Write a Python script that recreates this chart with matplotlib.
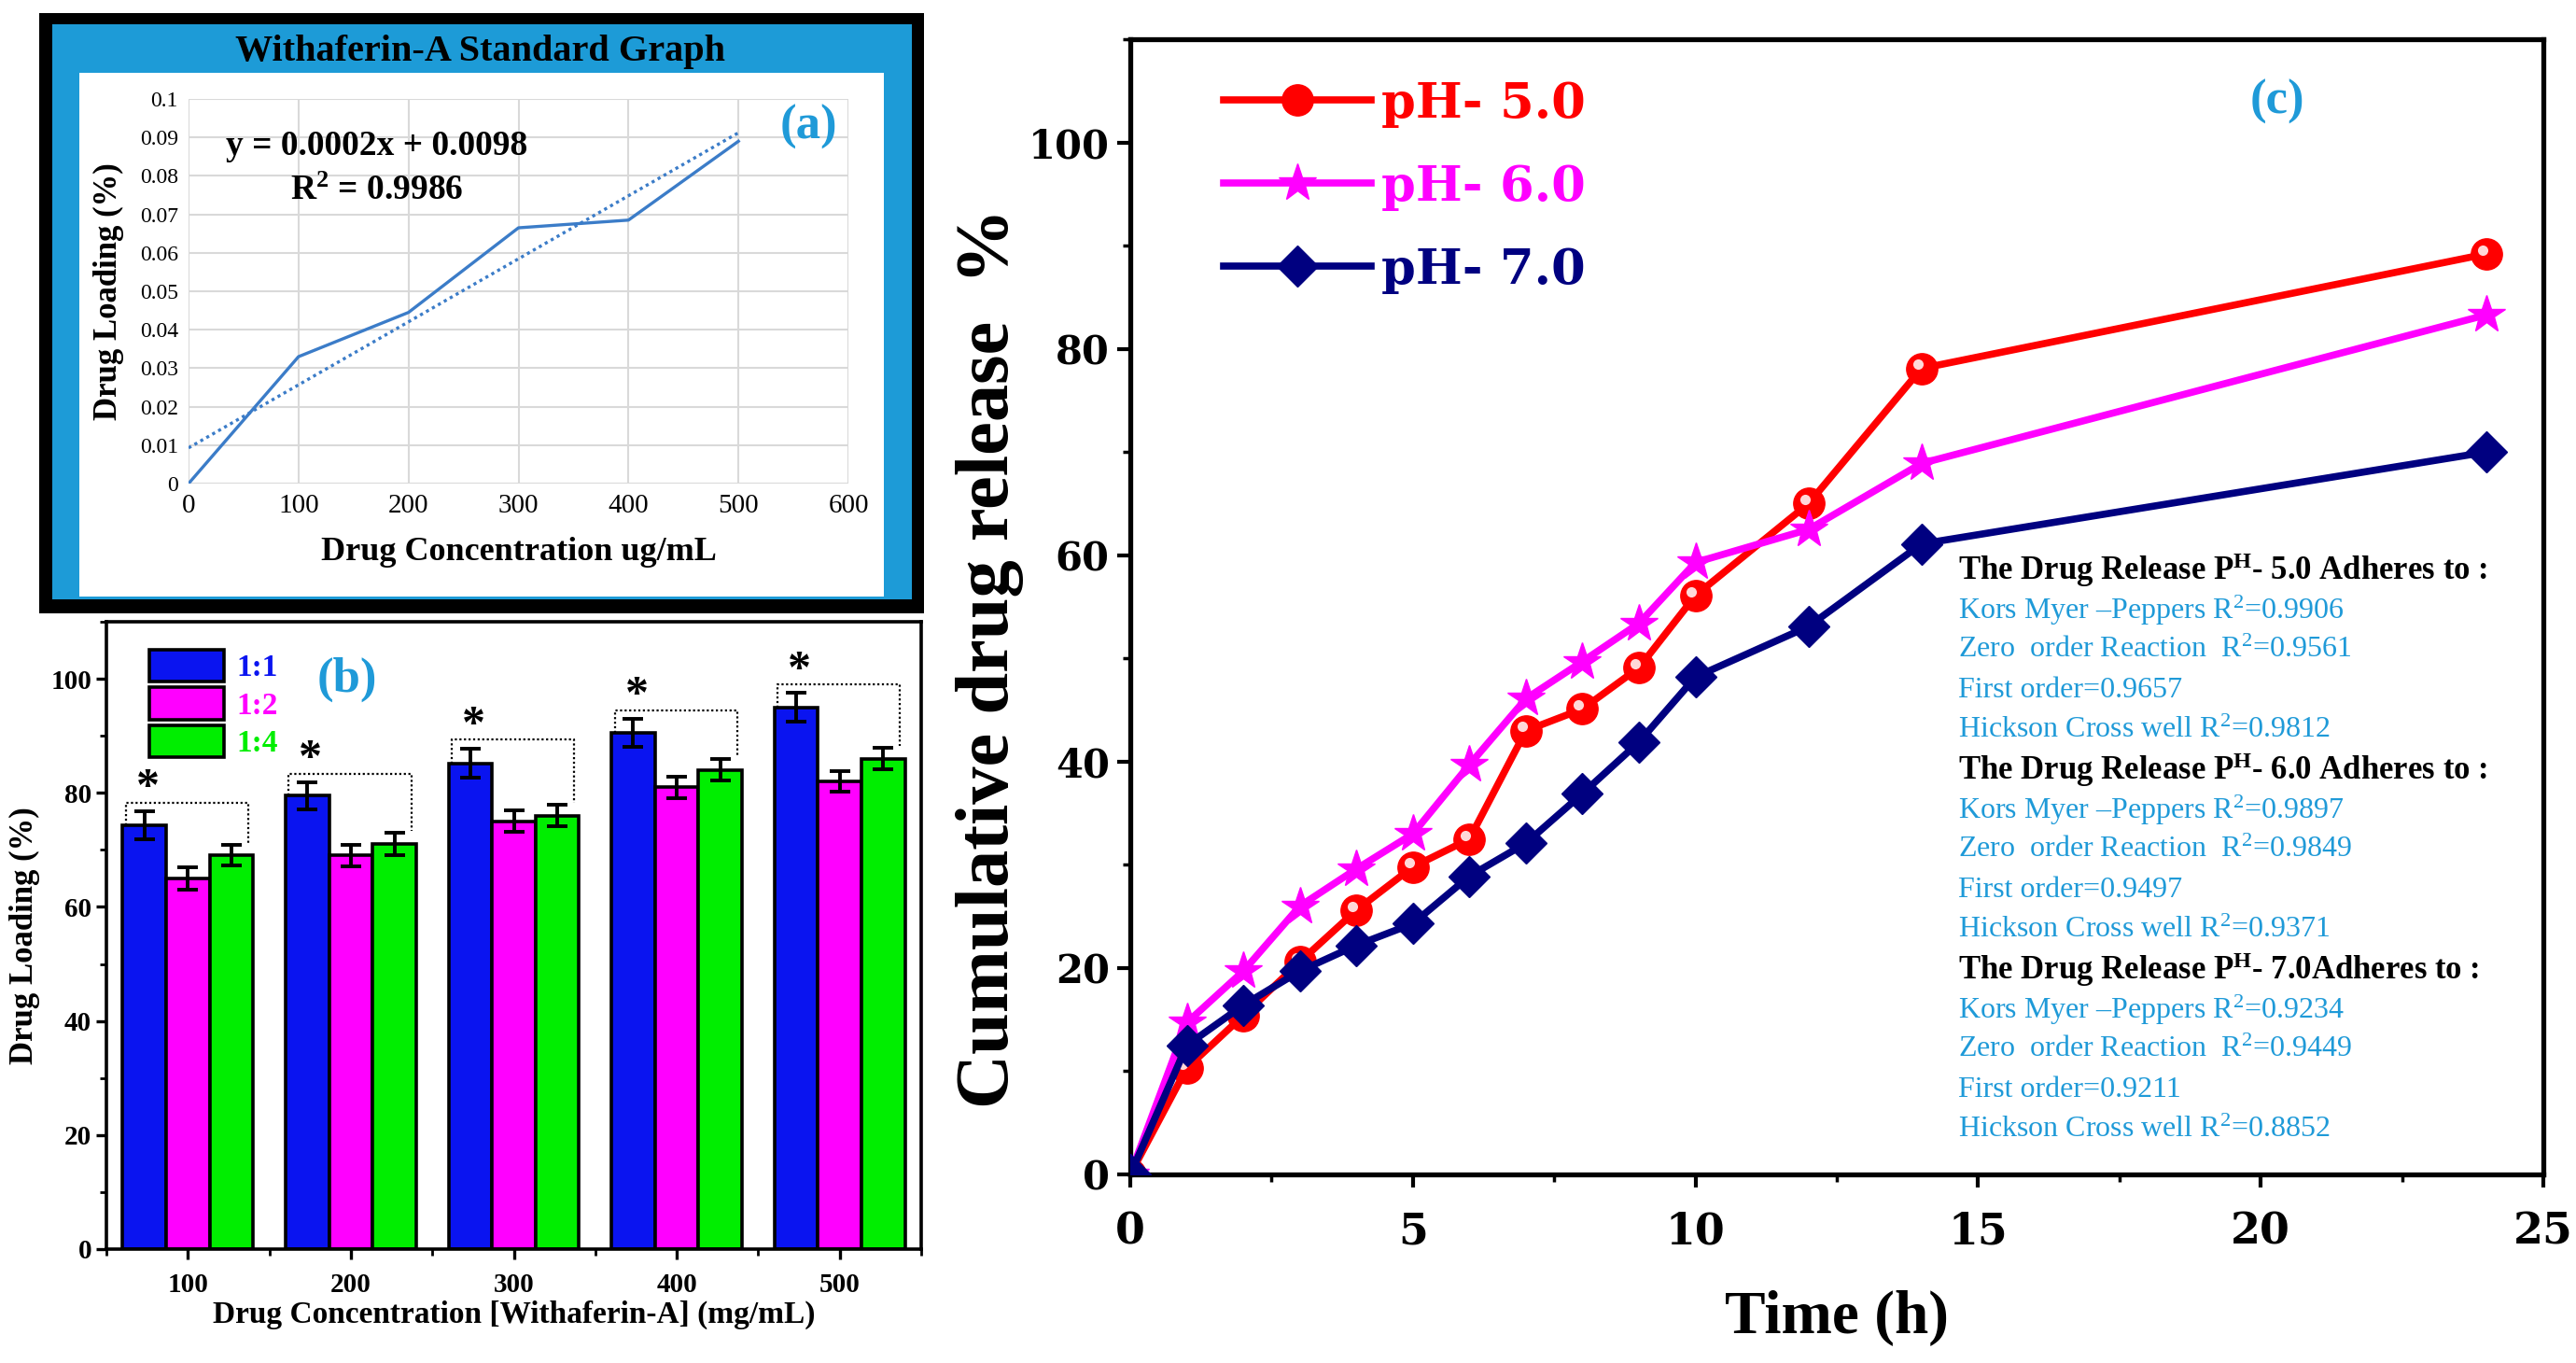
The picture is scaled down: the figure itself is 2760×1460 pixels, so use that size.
import numpy as np
import matplotlib
matplotlib.use("Agg")
import matplotlib.pyplot as plt
from matplotlib.patches import Rectangle
from matplotlib.ticker import MultipleLocator, FixedLocator
from matplotlib.transforms import ScaledTranslation

plt.rcParams['font.family'] = ['Liberation Serif', 'DejaVu Serif']
plt.rcParams['mathtext.fontset'] = 'custom'
plt.rcParams['mathtext.rm'] = 'Liberation Serif'
plt.rcParams['mathtext.bf'] = 'Liberation Serif:bold'
plt.rcParams['mathtext.it'] = 'Liberation Serif:italic'

# ---------------- data ----------------
# (a) standard graph
std_conc = [0, 100, 200, 300, 400, 500]
std_abs = [0.0, 0.033, 0.0445, 0.0665, 0.0685, 0.089]
a_xticks = [0, 100, 200, 300, 400, 500, 600]
a_yticks = [0, 0.01, 0.02, 0.03, 0.04, 0.05, 0.06, 0.07, 0.08, 0.09, 0.1]
a_yticklabels = ['0', '0.01', '0.02', '0.03', '0.04', '0.05', '0.06', '0.07', '0.08', '0.09', '0.1']

# (b) drug loading
conc_labels = ['100', '200', '300', '400', '500']
ratio_labels = ['1:1', '1:2', '1:4']
load_11 = [74.3, 79.5, 85.2, 90.5, 95.0]
load_12 = [65.0, 69.0, 75.0, 81.0, 82.0]
load_14 = [69.0, 71.0, 76.0, 84.0, 86.0]
err_11 = [2.5, 2.4, 2.6, 2.5, 2.5]
err_12 = [1.9, 1.9, 1.9, 1.9, 1.8]
err_14 = [1.8, 2.0, 1.9, 1.9, 1.9]

# (c) cumulative release
time_h = [0, 1, 2, 3, 4, 5, 6, 7, 8, 9, 10, 12, 14, 24]
rel_ph5 = [0, 10.3, 15.4, 20.6, 25.6, 29.8, 32.5, 43.0, 45.1, 49.1, 56.1, 65.0, 78.1, 89.2]
rel_ph6 = [0, 14.7, 19.7, 26.0, 29.6, 33.0, 39.7, 46.1, 49.7, 53.4, 59.3, 62.5, 68.9, 83.3]
rel_ph7 = [0, 12.5, 16.4, 19.7, 22.2, 24.3, 28.9, 32.1, 36.9, 41.9, 48.2, 53.1, 61.1, 70.0]
series_labels = ['pH- 5.0', 'pH- 6.0', 'pH- 7.0']

W, H = 2760, 1460
fig = plt.figure(figsize=(W / 100, H / 100), dpi=100)
fig.patch.set_facecolor('white')

def fx(px):
    return px / W

def fy(py):
    return 1 - py / H

def frect(x0, y0, x1, y1, **kw):
    r = Rectangle((fx(x0), fy(y1)), fx(x1) - fx(x0), fy(y0) - fy(y1),
                  transform=fig.transFigure, **kw)
    fig.add_artist(r)

LBLUE = '#1f9ad8'

# ---------------- panel (a) frame ----------------
frect(42, 14, 990, 657, facecolor='black', edgecolor='none', zorder=0)
frect(56, 26, 977, 642, facecolor='#1d9bd7', edgecolor='none', zorder=0)
frect(85, 78, 947, 639, facecolor='white', edgecolor='none', zorder=0)
fig.text(fx(515), fy(55), 'Withaferin-A Standard Graph', ha='center', va='center',
         fontsize=29, fontweight='bold', color='black')

axa = fig.add_axes([fx(202), fy(518), fx(909) - fx(202), fy(106) - fy(518)])
axa.set_facecolor('white')
line_col = '#3b7cc8'
axa.plot(std_conc, std_abs, color=line_col, lw=2.4, zorder=3)
slope, icpt = np.polyfit(std_conc, std_abs, 1)
xs = np.array([std_conc[0], std_conc[-1]])
axa.plot(xs, slope * xs + icpt, color=line_col, lw=2.4, ls=(0, (1, 1.2)), zorder=3)
axa.set_xlim(0, 600)
axa.set_ylim(0, 0.1)
axa.set_xticks(a_xticks)
axa.set_yticks(a_yticks)
axa.set_yticklabels(a_yticklabels)
axa.grid(True, color='#d9d9d9', lw=1.5)
axa.set_axisbelow(True)
for s in axa.spines.values():
    s.set_visible(False)
axa.tick_params(length=0, labelsize=17, pad=8)
for t in axa.get_xticklabels():
    t.set_fontsize(21)
axa.set_xlabel('Drug Concentration ug/mL', fontsize=26, fontweight='bold', labelpad=14)
axa.set_ylabel('Drug Loading (%)', fontsize=25, fontweight='bold', labelpad=12)
fig.text(fx(404), fy(157), 'y = 0.0002x + 0.0098', ha='center', va='center',
         fontsize=27, fontweight='bold')
fig.text(fx(404), fy(205), 'R$^{\\mathbf{2}}$ = 0.9986', ha='center', va='center',
         fontsize=27, fontweight='bold')
fig.text(fx(866), fy(136), '(a)', ha='center', va='center', fontsize=38,
         fontweight='bold', color=LBLUE)

# ---------------- panel (b) ----------------
axb = fig.add_axes([fx(114), fy(1338), fx(987) - fx(114), fy(666) - fy(1338)])
idx = np.arange(len(conc_labels))
bw = 0.267
cols_b = ['#0a14f0', '#ff00ff', '#00ee00']
vals = [load_11, load_12, load_14]
errs = [err_11, err_12, err_14]
for k in range(3):
    axb.bar(idx + (k - 1) * bw, vals[k], width=bw, color=cols_b[k], edgecolor='black',
            linewidth=2.6, label=ratio_labels[k], zorder=2)
    axb.errorbar(idx + (k - 1) * bw, vals[k], yerr=errs[k], fmt='none', ecolor='black',
                 elinewidth=2.8, capsize=8, capthick=2.8, zorder=3)
for i in idx:
    top = load_11[i] + err_11[i] + 1.5
    xl = i - 1.5 * bw + 0.02
    xr = i + 1.5 * bw - 0.03
    yr = load_14[i] + err_14[i] + 0.3
    axb.plot([xl, xl, xr, xr], [load_11[i], top, top, yr], color='black', lw=1.6,
             ls=(0, (1, 1.2)), zorder=4)
    axb.text(i - bw + 0.02, top - 1.4, '*', ha='center', va='bottom', fontsize=36,
             fontweight='bold', zorder=5)
axb.set_xlim(-0.5, 4.5)
axb.set_ylim(0, 110)
axb.set_xticks(idx)
axb.set_xticklabels(conc_labels)
axb.xaxis.set_minor_locator(FixedLocator([-0.5, 0.5, 1.5, 2.5, 3.5, 4.5]))
axb.yaxis.set_major_locator(MultipleLocator(20))
axb.yaxis.set_minor_locator(MultipleLocator(10))
for s in axb.spines.values():
    s.set_linewidth(2.6)
axb.tick_params(which='major', direction='out', length=8, width=2.4, labelsize=21)
axb.tick_params(which='minor', direction='out', length=5, width=2.0)
axb.tick_params(axis='x', pad=10)
for t in axb.get_xticklabels() + axb.get_yticklabels():
    t.set_fontweight('bold')
axb.set_xlabel('Drug Concentration [Withaferin-A] (mg/mL)', fontsize=24,
               fontweight='bold', labelpad=2)
axb.set_ylabel('Drug Loading (%)', fontsize=25, fontweight='bold', labelpad=8)
legb = axb.legend(loc='upper left', bbox_to_anchor=(0.03, 0.985), frameon=False,
                  fontsize=24, handlelength=2.4, handleheight=1.2, labelspacing=0.15,
                  handletextpad=0.4, borderaxespad=0.2)
for txt, c in zip(legb.get_texts(), cols_b):
    txt.set_color(c)
    txt.set_fontweight('bold')
fig.text(fx(372), fy(728), '(b)', ha='center', va='center', fontsize=38,
         fontweight='bold', color=LBLUE)

# ---------------- panel (c) ----------------
axc = fig.add_axes([fx(1211), fy(1258), fx(2725) - fx(1211), fy(42) - fy(1258)])
cols_c = ['#ff0000', '#ff00ff', '#000080']
markers = ['o', '*', 'D']
msizes = [24, 30, 22]
rels = [rel_ph5, rel_ph6, rel_ph7]
for k in range(3):
    axc.plot(time_h, rels[k], color=cols_c[k], lw=5.5, marker=markers[k],
             markersize=msizes[k], markeredgecolor=cols_c[k], label=series_labels[k],
             zorder=3 + k * 0.1)
hl = axc.transData + ScaledTranslation(-3 / 72, 3 / 72, fig.dpi_scale_trans)
axc.plot(time_h[1:], rel_ph5[1:], ls='none', marker='o', markersize=8,
         color='#ffd8d8', markeredgecolor='none', transform=hl, zorder=3.05)
axc.set_xlim(0, 25)
axc.set_ylim(0, 110)
axc.xaxis.set_major_locator(MultipleLocator(5))
axc.xaxis.set_minor_locator(MultipleLocator(2.5))
axc.yaxis.set_major_locator(MultipleLocator(20))
axc.yaxis.set_minor_locator(MultipleLocator(10))
for s in axc.spines.values():
    s.set_linewidth(3.8)
axc.tick_params(which='major', direction='out', length=10, width=3, labelsize=30, pad=6)
axc.tick_params(which='minor', direction='out', length=6, width=2.5)
axc.tick_params(axis='x', which='major', labelsize=33, pad=18)
for t in axc.get_xticklabels() + axc.get_yticklabels():
    t.set_fontweight('bold')
    t.set_fontfamily(['DejaVu Serif'])
axc.set_xlabel('Time (h)', fontsize=47, fontweight='bold', labelpad=28)
axc.set_ylabel('Cumulative drug release  %', fontsize=58, fontweight='bold')
axc.yaxis.set_label_coords(-0.075, 0.455)
legc = axc.legend(loc='upper left', bbox_to_anchor=(0.045, 0.99), frameon=False,
                  handlelength=3.0, labelspacing=0.72, handletextpad=0.2,
                  borderaxespad=0.2,
                  prop={'family': ['DejaVu Serif'], 'weight': 'bold', 'size': 38})
for txt, c in zip(legc.get_texts(), cols_c):
    txt.set_color(c)
fig.text(fx(2440), fy(109), '(c)', ha='center', va='center', fontsize=38,
         fontweight='bold', color=LBLUE)

ann_lines = [
    ('The Drug Release P$^{\\mathbf{H}}$- 5.0 Adheres to :', 'black', 'bold'),
    ('Kors Myer \u2013Peppers R$^2$=0.9906', LBLUE, 'normal'),
    ('Zero  order Reaction  R$^2$=0.9561', LBLUE, 'normal'),
    ('First order=0.9657', LBLUE, 'normal'),
    ('Hickson Cross well R$^2$=0.9812', LBLUE, 'normal'),
    ('The Drug Release P$^{\\mathbf{H}}$- 6.0 Adheres to :', 'black', 'bold'),
    ('Kors Myer \u2013Peppers R$^2$=0.9897', LBLUE, 'normal'),
    ('Zero  order Reaction  R$^2$=0.9849', LBLUE, 'normal'),
    ('First order=0.9497', LBLUE, 'normal'),
    ('Hickson Cross well R$^2$=0.9371', LBLUE, 'normal'),
    ('The Drug Release P$^{\\mathbf{H}}$- 7.0Adheres to :', 'black', 'bold'),
    ('Kors Myer \u2013Peppers R$^2$=0.9234', LBLUE, 'normal'),
    ('Zero  order Reaction  R$^2$=0.9449', LBLUE, 'normal'),
    ('First order=0.9211', LBLUE, 'normal'),
    ('Hickson Cross well R$^2$=0.8852', LBLUE, 'normal'),
]
for j, (s, c, w) in enumerate(ann_lines):
    fig.text(fx(2098), fy(611 + j * 42.8), s, ha='left', va='center',
             fontsize=25 if w == 'bold' else 23, color=c, fontweight=w)

fig.savefig('out.png', dpi=100, facecolor='white')
